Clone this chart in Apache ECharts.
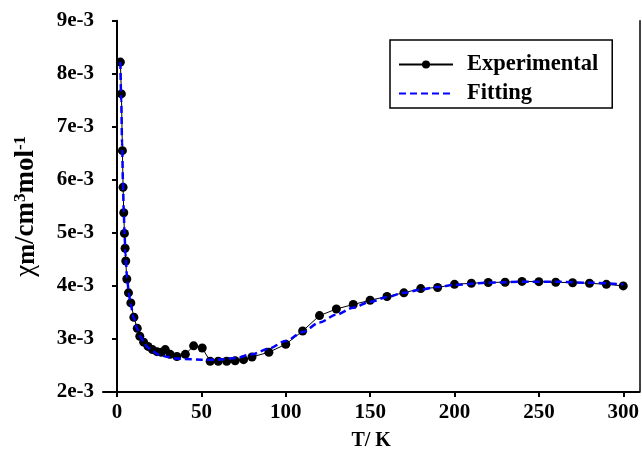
<!DOCTYPE html>
<html><head><meta charset="utf-8">
<script src="https://cdn.jsdelivr.net/npm/echarts@6/dist/echarts.min.js"></script>
<style>html,body{margin:0;padding:0;background:#fff}#c{width:642px;height:456px}</style>
</head><body><div id="c"></div>
<script>
// Experimental data (T in K, chi_m in cm^3 mol^-1)
const expT = [2, 2.6, 3.2, 3.6, 4.0, 4.4, 4.8, 5.2, 5.8, 6.8, 8.2, 10, 12, 13.5, 15.8, 18.4, 21, 23.7, 26.3, 28.6, 31.5, 35.5, 40.5, 45.4, 50.5, 55.2, 60, 65, 70, 75, 80, 90, 100, 110, 120, 130, 140, 150, 160, 170, 180, 190, 200, 210, 220, 230, 240, 250, 260, 270, 280, 290, 300];
const expChi = [8.22e-3, 7.62e-3, 6.55e-3, 5.86e-3, 5.38e-3, 4.99e-3, 4.71e-3, 4.47e-3, 4.13e-3, 3.87e-3, 3.68e-3, 3.41e-3, 3.20e-3, 3.05e-3, 2.94e-3, 2.86e-3, 2.80e-3, 2.76e-3, 2.75e-3, 2.80e-3, 2.71e-3, 2.67e-3, 2.71e-3, 2.87e-3, 2.83e-3, 2.58e-3, 2.58e-3, 2.58e-3, 2.59e-3, 2.61e-3, 2.66e-3, 2.75e-3, 2.90e-3, 3.15e-3, 3.44e-3, 3.565e-3, 3.65e-3, 3.73e-3, 3.80e-3, 3.87e-3, 3.95e-3, 3.97e-3, 4.03e-3, 4.05e-3, 4.065e-3, 4.07e-3, 4.085e-3, 4.08e-3, 4.07e-3, 4.06e-3, 4.05e-3, 4.03e-3, 4.00e-3];
// Fitting curve
const fitT = [2, 2.5, 3, 3.5, 4, 4.5, 5, 6, 7, 8, 10, 12, 14, 16, 18, 20, 25, 30, 35, 40, 50, 60, 70, 80, 90, 100, 110, 120, 130, 140, 150, 160, 170, 180, 190, 200, 220, 240, 260, 280, 300];
const fitChi = [8.22e-3, 7.5e-3, 6.7e-3, 6.0e-3, 5.4e-3, 4.95e-3, 4.6e-3, 4.15e-3, 3.86e-3, 3.66e-3, 3.39e-3, 3.19e-3, 3.04e-3, 2.93e-3, 2.85e-3, 2.79e-3, 2.70e-3, 2.66e-3, 2.63e-3, 2.62e-3, 2.61e-3, 2.61e-3, 2.64e-3, 2.71e-3, 2.82e-3, 2.96e-3, 3.13e-3, 3.31e-3, 3.46e-3, 3.59e-3, 3.70e-3, 3.79e-3, 3.87e-3, 3.93e-3, 3.98e-3, 4.02e-3, 4.06e-3, 4.08e-3, 4.08e-3, 4.06e-3, 4.03e-3];
// Ticks
const xTicks = [0, 50, 100, 150, 200, 250, 300];
const yTickLabels = ['2e-3', '3e-3', '4e-3', '5e-3', '6e-3', '7e-3', '8e-3', '9e-3'];

const FONT = 'Liberation Serif';
const chart = echarts.init(document.getElementById('c'), null, {renderer: 'canvas'});
const pair = (a, b) => a.map((v, i) => [v, b[i]]);
chart.setOption({
  animation: false,
  backgroundColor: '#fff',
  grid: {left: 103, right: 1, top: 20.7, bottom: 62.7},
  legend: {
    left: 390, top: 40, orient: 'vertical',
    padding: [13, 14, 3, 8],
    itemWidth: 54, itemHeight: 10, itemGap: 6,
    borderColor: '#000', borderWidth: 1.5,
    textStyle: {fontFamily: FONT, fontWeight: 'bold', fontSize: 22.5, color: '#000', padding: [0, 0, 0, 9]},
    data: [{name: 'Experimental'}, {name: 'Fitting', itemStyle: {opacity: 0}}]
  },
  xAxis: {
    type: 'value', min: -8.3, max: 309.5,
    name: 'T/ K', nameLocation: 'middle', nameGap: 39,
    nameTextStyle: {fontFamily: FONT, fontWeight: 'bold', fontSize: 20, color: '#000'},
    axisLine: {lineStyle: {color: '#000', width: 2}},
    axisTick: {show: true, length: 5, lineStyle: {color: '#000', width: 2}, customValues: xTicks},
    axisLabel: {fontFamily: FONT, fontWeight: 'bold', fontSize: 21, color: '#000', margin: 10, customValues: xTicks},
    splitLine: {show: false}
  },
  yAxis: [{
    type: 'value', min: 0.002, max: 0.009, interval: 0.001, offset: -5,
    name: '{chi|χ}{sub|m}{b|/cm}{sup|3}{b|mol}{sup|-1}',
    nameLocation: 'middle', nameGap: 68, nameRotate: 90,
    nameTextStyle: {
      color: '#000',
      rich: {
        chi: {fontFamily: FONT, fontSize: 27, lineHeight: 28, color: '#000', verticalAlign: 'middle'},
        sub: {fontFamily: FONT, fontWeight: 'bold', fontSize: 25, lineHeight: 22, color: '#000', verticalAlign: 'bottom'},
        b: {fontFamily: FONT, fontWeight: 'bold', fontSize: 27, lineHeight: 28, color: '#000', verticalAlign: 'middle'},
        sup: {fontFamily: FONT, fontWeight: 'bold', fontSize: 17, lineHeight: 16, color: '#000', verticalAlign: 'top'}
      }
    },
    axisLine: {show: true, lineStyle: {color: '#000', width: 2}},
    axisTick: {show: true, length: 5, lineStyle: {color: '#000', width: 2}},
    axisLabel: {fontFamily: FONT, fontWeight: 'bold', fontSize: 21, color: '#000', margin: 14,
      formatter: v => yTickLabels[Math.round(v * 1000) - 2]},
    splitLine: {show: false}
  }, {
    type: 'value', min: 0.002, max: 0.009, position: 'right',
    axisLine: {show: true, onZero: false, lineStyle: {color: '#000', width: 1.5}},
    axisTick: {show: false}, axisLabel: {show: false}, splitLine: {show: false}
  }],
  series: [{
    name: 'Experimental', type: 'line', data: pair(expT, expChi),
    symbol: 'circle', symbolSize: 9, showSymbol: true,
    itemStyle: {color: '#000'}, lineStyle: {color: '#000', width: 1}, z: 2
  }, {
    name: 'Fitting', type: 'line', data: pair(fitT, fitChi),
    showSymbol: false, symbol: 'none', smooth: 0.3, smoothMonotone: 'x',
    itemStyle: {color: '#0000ff'}, lineStyle: {color: '#0000ff', width: 2.5, type: [7, 4]}, z: 3
  }]
});
</script></body></html>
